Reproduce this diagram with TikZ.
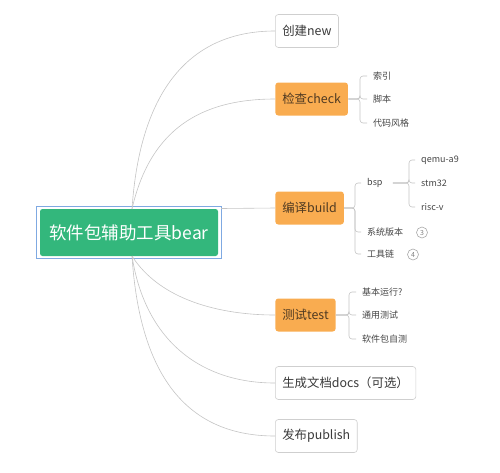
\documentclass[tikz,border=0pt]{standalone}
\usepackage{fontspec}
\setmainfont{Noto Sans CJK SC}
\definecolor{linegray}{HTML}{C4C4C4}
\definecolor{boxgray}{HTML}{CFCFCF}
\definecolor{badgegray}{HTML}{A8A8A8}
\definecolor{rootgreen}{HTML}{33B77C}
\definecolor{rootframe}{HTML}{7FA9E2}
\definecolor{mainorange}{HTML}{F9AC50}
\definecolor{maintext}{HTML}{3A3A3A}
\definecolor{orangetext}{HTML}{4F3A22}
\definecolor{leaftext}{HTML}{454545}
\tikzset{
  rootbox/.style={fill=rootgreen, rounded corners=2.5pt, text=white,
    minimum width=178pt, minimum height=47pt, inner sep=0pt,
    font=\fontsize{17.5}{20}\selectfont},
  topicbox/.style={draw=boxgray, line width=0.6pt, fill=white, rounded corners=3pt,
    anchor=west, minimum height=33pt, inner xsep=7pt, inner ysep=0pt, text=maintext,
    font=\fontsize{12.4}{15}\selectfont},
  hotbox/.style={topicbox, draw=none, fill=mainorange, text=orangetext},
  leaf/.style={anchor=west, inner sep=0pt, text=leaftext,
    font=\fontsize{9}{11}\selectfont},
  badge/.style={circle, draw=badgegray, line width=0.6pt, minimum size=11pt, inner sep=0pt,
    text=gray, font=\fontsize{7}{8}\selectfont},
  branch/.style={draw=linegray, line width=0.6pt},
  elbow/.style={branch, rounded corners=3pt},
}
\begin{document}
\begin{tikzpicture}[x=1pt, y=-1pt]
\useasboundingbox (0,0) rectangle (500,472);

% central topic with its light frame
\node[rootbox] (root) at (129,232.5) {软件包辅助工具bear};
\draw[rootframe, line width=0.8pt]
  ([shift={(-3pt,-2.5pt)}]root.south west) rectangle ([shift={(3pt,2.5pt)}]root.north east);
\coordinate (rtop) at (132,209);
\coordinate (rbot) at (132,256);
\coordinate (rright) at (221,208.5);

% main topics
\node[topicbox] (new)     at (275,31)  {创建new};
\node[hotbox]   (check)   at (275,99)  {检查check};
\node[hotbox]   (build)   at (275,208) {编译build};
\node[hotbox]   (test)    at (275,315) {测试test};
\node[topicbox] (docs)    at (275,383) {生成文档docs（可选）};
\node[topicbox] (publish) at (275,436) {发布publish};

% curves from the central topic
\draw[branch] (rtop) .. controls (140,90) and (190,31) .. (new.west);
\draw[branch] (rtop) .. controls (150,130) and (200,99) .. (check.west);
\draw[branch] (rright) -- (build.west);
\draw[branch] (rbot) .. controls (160,300) and (220,315) .. (test.west);
\draw[branch] (rbot) .. controls (145,340) and (200,383) .. (docs.west);
\draw[branch] (rbot) .. controls (140,380) and (190,436) .. (publish.west);

% check subtopics
\node[leaf] (idx)    at (373,76)  {索引};
\node[leaf] (script) at (373,99)  {脚本};
\node[leaf] (style)  at (373,123) {代码风格};
\coordinate (jcheck) at (360,99);
\foreach \c in {idx,script,style}
  \draw[elbow] (check.east) -- (jcheck) |- ([xshift=-6pt]\c.west);

% build subtopics
\node[leaf] (bsp)   at (367,183) {bsp};
\node[leaf] (sysv)  at (367,232) {系统版本};
\node[leaf] (chain) at (367,254) {工具链};
\node[badge] (b3) at (422,232.5) {3};
\node[badge] (b4) at (413,254.5) {4};
\coordinate (jbuild) at (355,208);
\foreach \c in {bsp,sysv,chain}
  \draw[elbow] (build.east) -- (jbuild) |- ([xshift=-6pt]\c.west);

% bsp targets
\node[leaf] (qemu)  at (421,160) {qemu-a9};
\node[leaf] (stm)   at (421,183) {stm32};
\node[leaf] (riscv) at (421,207) {risc-v};
\coordinate (jbsp) at (409,183);
\foreach \c in {qemu,stm,riscv}
  \draw[elbow] ([xshift=10pt]bsp.east) -- (jbsp) |- ([xshift=-6pt]\c.west);

% test subtopics
\node[leaf] (basic) at (362,292) {基本运行?};
\node[leaf] (gen)   at (362,315) {通用测试};
\node[leaf] (self)  at (362,339) {软件包自测};
\coordinate (jtest) at (349,315);
\foreach \c in {basic,gen,self}
  \draw[elbow] (test.east) -- (jtest) |- ([xshift=-6pt]\c.west);
\end{tikzpicture}
\end{document}
